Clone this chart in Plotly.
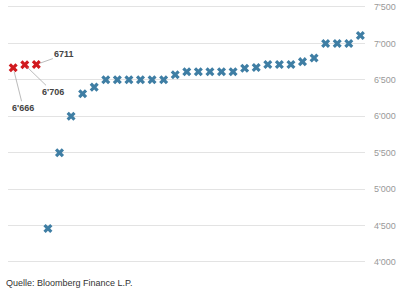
import plotly.graph_objects as go

# Data
red_idx = [0, 1, 2]
red_vals = [6666, 6706, 6711]
red_labels = ["6'666", "6'706", "6711"]

blue_vals = [4460, 5500, 6000, 6310, 6400, 6500, 6500, 6500, 6500, 6500, 6500,
             6570, 6610, 6610, 6610, 6610, 6610, 6660, 6670, 6710, 6710, 6710,
             6750, 6800, 7000, 7000, 7000, 7110]
blue_idx = list(range(3, 3 + len(blue_vals)))

tick_vals = [4000, 4500, 5000, 5500, 6000, 6500, 7000, 7500]
tick_text = ["4'000", "4'500", "5'000", "5'500", "6'000", "6'500", "7'000", "7'500"]

source = "Quelle: Bloomberg Finance L.P."

RED = "#d11a1f"
BLUE = "#3f7ea4"

fig = go.Figure()
fig.add_trace(go.Scatter(x=blue_idx, y=blue_vals, mode="markers",
                         marker=dict(symbol="x", size=8, color=BLUE, line=dict(width=0)),
                         hoverinfo="skip"))
fig.add_trace(go.Scatter(x=red_idx, y=red_vals, mode="markers",
                         marker=dict(symbol="x", size=8, color=RED, line=dict(width=0)),
                         hoverinfo="skip"))

offsets = [(10, 40), (28, 27), (28, -10)]
for i, v, lab, (ax, ay) in zip(red_idx, red_vals, red_labels, offsets):
    fig.add_annotation(x=i, y=v, text="<b>" + lab + "</b>", showarrow=True,
                       arrowhead=0, arrowwidth=0.8, arrowcolor="#aaaaaa",
                       ax=ax, ay=ay, standoff=4,
                       font=dict(family="Liberation Sans, Arial", size=9, color="#444444"))

fig.add_annotation(xref="paper", yref="paper", x=-4/357, y=-13/270, xanchor="left",
                   yanchor="middle", text=source, showarrow=False,
                   font=dict(family="Liberation Sans, Arial", size=9, color="#333333"))

fig.update_layout(
    width=400, height=288,
    margin=dict(l=8, r=35, t=0, b=18),
    plot_bgcolor="white", paper_bgcolor="white",
    showlegend=False,
    xaxis=dict(range=[-0.45, 30.4], showgrid=False, zeroline=False,
               showticklabels=False, showline=False, fixedrange=True),
    yaxis=dict(range=[3890, 7596], side="right", tickvals=tick_vals, ticktext=tick_text,
               showgrid=True, gridcolor="#e3e3e3", gridwidth=1, zeroline=False,
               showline=False, ticks="", ticklabelstandoff=8,
               tickfont=dict(family="Liberation Sans, Arial", size=9, color="#999999"),
               fixedrange=True),
)

fig.write_html("out.html")
